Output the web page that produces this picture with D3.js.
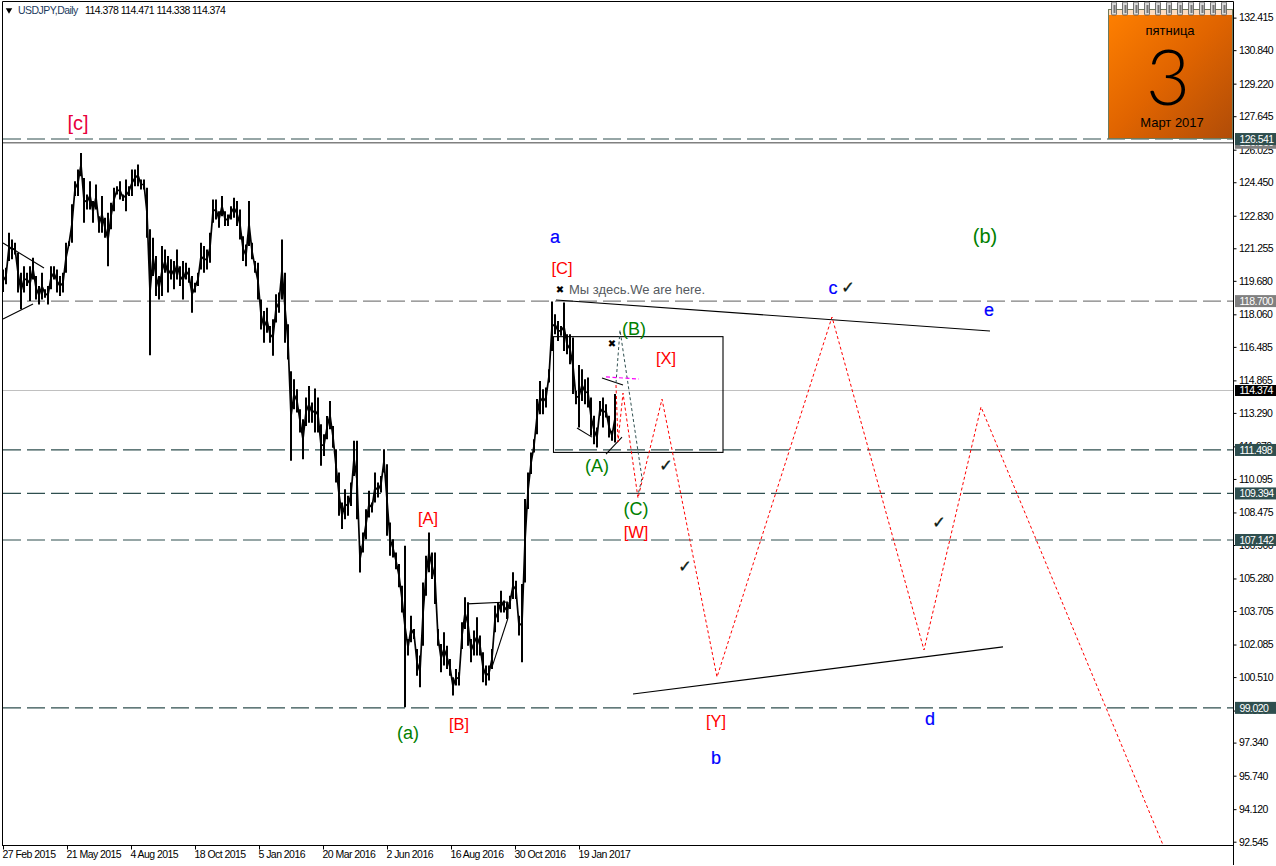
<!DOCTYPE html>
<html><head><meta charset="utf-8">
<script src="https://cdn.jsdelivr.net/npm/d3@7/dist/d3.min.js"></script>
<style>html,body{margin:0;padding:0;background:#fff;overflow:hidden}svg{display:block}text{font-family:"Liberation Sans",Arial,sans-serif}</style>
</head><body><svg id="c" width="1276" height="866"></svg>
<script>
// ---- data ----
const sampleHigh=[120.23,120.31,122.01,121.68,121.52,121.04,120.07,120.39,120.07,120.39,120.80,119.91,119.43,120.07,119.27,119.43,120.39,120.39,120.23,119.91,120.07,121.52,121.60,123.38,124.50,125.07,125.87,124.66,123.86,124.50,123.54,124.34,122.81,123.78,122.73,122.97,123.46,124.18,124.26,124.50,123.86,124.58,124.26,125.07,125.07,125.31,124.58,124.58,124.18,122.17,121.76,120.88,119.91,121.36,121.20,120.88,120.72,120.64,121.20,120.39,120.64,120.56,120.31,119.91,119.59,120.07,121.52,121.36,121.20,122.01,123.62,123.62,123.05,123.78,123.05,122.89,123.29,123.70,123.54,123.13,121.84,121.44,123.54,121.52,120.64,120.56,118.78,118.22,118.38,117.50,117.82,119.03,119.11,121.68,120.07,117.58,115.30,114.92,114.43,113.47,112.98,114.03,114.59,113.79,114.47,114.03,112.74,112.26,113.14,113.87,112.66,111.53,110.41,108.96,109.60,109.28,109.92,111.94,111.94,106.86,107.51,108.63,109.52,108.96,110.41,109.92,110.24,111.53,110.81,107.99,107.18,106.54,105.98,104.93,106.86,102.35,103.48,102.84,101.87,101.55,105.09,106.38,107.51,106.54,106.54,102.84,102.11,102.68,102.03,101.39,100.50,100.90,100.74,103.16,104.37,104.13,102.35,102.76,103.40,102.52,101.71,101.07,101.07,101.87,103.97,104.13,104.69,104.21,104.13,104.45,105.58,105.17,103.48,105.01,109.12,110.41,111.38,112.02,113.96,114.84,114.44,114.52,115.40,118.68,118.06,117.74,117.50,118.63,117.10,117.10,116.94,114.36,115.61,115.40,114.92,115.00,114.04,113.15,112.59,113.87,114.04,113.71,113.15,112.43,114.20];
const sampleLow=[119.14,119.51,120.64,120.72,120.96,119.11,118.30,119.11,119.43,118.70,119.75,118.78,118.54,118.78,118.86,118.54,119.27,119.75,119.11,118.95,119.11,120.07,121.36,121.52,123.78,123.78,124.74,122.49,123.13,123.13,122.49,123.13,122.01,122.01,121.76,120.39,122.17,123.05,123.86,123.62,123.54,123.05,123.78,123.78,124.26,124.26,124.10,124.10,121.76,116.08,119.91,118.95,118.78,118.95,120.07,119.11,119.75,119.27,119.75,119.43,118.78,119.75,119.59,118.14,119.11,119.43,120.23,120.07,120.23,120.56,122.49,122.65,122.25,122.81,122.33,122.33,122.65,122.73,122.33,121.68,120.64,120.39,121.36,120.72,120.07,118.78,117.33,116.69,117.17,116.69,116.05,117.66,118.14,118.78,116.69,115.88,110.97,113.47,113.31,112.34,111.05,112.66,112.82,112.82,112.34,112.34,110.73,111.21,112.02,112.50,111.61,109.92,108.31,107.67,108.15,108.31,108.79,110.24,108.15,105.57,106.54,107.18,108.23,108.47,108.96,109.20,109.44,110.41,107.35,106.38,106.30,105.73,104.85,103.64,99.05,101.55,102.19,102.35,100.58,100.02,102.03,104.45,105.58,105.25,104.05,102.03,100.74,101.07,100.90,100.58,99.62,100.10,100.10,101.87,102.84,102.03,101.23,101.55,101.55,101.55,100.26,100.10,100.34,100.90,102.68,103.16,103.64,103.64,103.32,103.80,104.29,104.29,102.52,101.23,105.09,108.64,110.33,111.38,112.26,113.23,113.23,113.55,114.76,116.29,117.10,116.77,117.02,116.29,116.13,115.65,114.20,113.71,112.59,113.87,113.71,113.55,112.18,111.78,111.62,113.15,112.59,113.07,112.10,111.94,111.86];
const barStep=3;
const priceTicks=[132.415,130.840,129.220,127.645,126.025,124.450,122.830,121.255,119.680,118.060,116.485,114.865,113.290,111.670,110.095,108.475,106.900,105.280,103.705,102.085,100.510,98.890,97.340,95.740,94.120,92.545];
const dateTickBars=[1,65,129,193,257,321,385,449,513,577];
const dateTickLabels=["27 Feb 2015","21 May 2015","4 Aug 2015","18 Oct 2015","5 Jan 2016","20 Mar 2016","2 Jun 2016","16 Aug 2016","30 Oct 2016","19 Jan 2017"];
const levelPrices=[126.541,118.700,111.498,109.394,107.142,99.020];
const levelKinds=["slate","gray","slate","slate","slate","slate"];
const lastPrice=114.374, openLine=126.360;
const redWaveBars=[614,616,621,636,660,715,830,922,979,1161];
const redWavePrices=[114.64,111.88,114.25,109.17,113.96,100.51,117.93,101.82,113.58,92.39];
const slateWaveBars=[614,618,640,636];
const slateWavePrices=[114.74,117.30,110.14,109.32];
const magentaBars=[604,637];
const magentaPrices=[115.03,114.93];
const trendA=[554,118.75,988,117.25];
const trendB=[631,99.69,1001,101.97];
const trendC=[1,121.51,42,120.30];
const trendD=[1,117.83,31,118.56];
const trendE=[465,104.05,506,104.14];
const trendF=[506,104.14,506,103.37];
const trendG=[506,103.37,490,100.99];
const trendH=[600,114.98,621,114.64];
const trendI=[575,112.56,590,112.12];
const trendJ=[604,111.30,620,112.12];
const boxBars=[551.5,721];
const boxPrices=[116.98,111.38];
const labelTexts=["[c]","a","[C]","(b)","c","e","(B)","[X]","(A)","(C)","[W]","[A]","[B]","(a)","[Y]","b","d"];
const labelBars=[76,553,560,983,831,987,632,664,595,634,634,426,457,406,714,714,928];
const labelPrices=[127.32,121.80,120.30,121.85,119.33,118.27,117.35,115.95,110.72,108.64,107.53,108.21,98.24,97.80,98.38,96.60,98.48];
const labelColors=["#e8003c","#0000ff","#ff0000","#008000","#0000ff","#0000ff","#008000","#ff0000","#008000","#008000","#ff0000","#ff0000","#ff0000","#008000","#ff0000","#0000ff","#0000ff"];
const checkBars=[846,664,683,937];
const checkPrices=[119.38,110.77,105.88,108.01];
const crossBars=[558,610];
const crossPrices=[119.29,116.67];
const noteText="Мы здесь.We are here.";
const noteBar=567, notePrice=119.24;
const headerSymbol="USDJPY,Daily";
const headerValues="114.378 114.471 114.338 114.374";
const calendarDay="пятница", calendarDate="3", calendarMonth="Март 2017";
const calendarRings=d3.range(11);

// ---- scales ----
const plot={l:2,r:1233,t:1,b:845};
const x=d3.scaleLinear().domain([0,1231]).range([plot.l,plot.r]);
const y=d3.scaleLinear().domain([92.386,133.267]).range([845,0]);
const svg=d3.select("#c");
const slate="#2f4f4f",gray="#808080";
const defs=svg.append("defs");
defs.append("clipPath").attr("id","pc").append("rect").attr("x",plot.l).attr("y",plot.t).attr("width",plot.r-plot.l).attr("height",plot.b-plot.t);
const g=defs.append("linearGradient").attr("id","cal").attr("x1",0).attr("y1",0).attr("x2",1).attr("y2",1);
g.append("stop").attr("offset",0).attr("stop-color","#ff8000");
g.append("stop").attr("offset",.5).attr("stop-color","#e06400");
g.append("stop").attr("offset",1).attr("stop-color","#b04c08");

const chart=svg.append("g").attr("clip-path","url(#pc)");

// horizontal lines
chart.append("line").attr("x1",plot.l).attr("x2",plot.r).attr("y1",y(openLine)).attr("y2",y(openLine)).attr("stroke",gray).attr("stroke-width",1.3);
chart.append("line").attr("x1",plot.l).attr("x2",plot.r).attr("y1",y(lastPrice)).attr("y2",y(lastPrice)).attr("stroke","#c0c0c0");
chart.selectAll(".lvl").data(levelPrices).join("line").attr("class","lvl")
 .attr("x1",plot.l+1).attr("x2",plot.r).attr("y1",d=>y(d)).attr("y2",d=>y(d))
 .attr("stroke",(d,i)=>levelKinds[i]==="gray"?gray:slate).attr("stroke-width",1.2).attr("stroke-dasharray","18 6");

// price bars, with a thin line through each bar's middle joining them
const lineGen=d3.line().x(d=>x(d[0])).y(d=>y(d[1]));
chart.append("path").attr("d",lineGen(sampleHigh.map((h,i)=>[1+i*barStep,(h+sampleLow[i])/2]))).attr("fill","none").attr("stroke","#000").attr("stroke-width",1.7);
chart.append("g").selectAll("line").data(sampleHigh).join("line")
 .attr("x1",(d,i)=>x(1+i*barStep)).attr("x2",(d,i)=>x(1+i*barStep))
 .attr("y1",d=>y(d)).attr("y2",(d,i)=>y(sampleLow[i]))
 .attr("stroke","#000").attr("stroke-width",2);

// trendlines
[trendA,trendB,trendC,trendD,trendE,trendF,trendG,trendH,trendI,trendJ].forEach(t=>{
 chart.append("path").attr("d",lineGen([[t[0],t[1]],[t[2],t[3]]])).attr("fill","none").attr("stroke","#000").attr("stroke-width",1.1);
});
chart.append("rect").attr("x",x(boxBars[0])).attr("y",y(boxPrices[0])).attr("width",x(boxBars[1])-x(boxBars[0])).attr("height",y(boxPrices[1])-y(boxPrices[0])).attr("fill","none").attr("stroke","#000").attr("stroke-width",1.1);

// projected waves
chart.append("path").attr("d",lineGen(slateWaveBars.map((b,i)=>[b,slateWavePrices[i]]))).attr("fill","none").attr("stroke",slate).attr("stroke-dasharray","3 2.5");
chart.append("path").attr("d",lineGen(redWaveBars.map((b,i)=>[b,redWavePrices[i]]))).attr("fill","none").attr("stroke","#ff0000").attr("stroke-dasharray","3 2.5");
chart.append("path").attr("d",lineGen(magentaBars.map((b,i)=>[b,magentaPrices[i]]))).attr("fill","none").attr("stroke","#ff00ff").attr("stroke-dasharray","4 2.5").attr("stroke-width",1.2);

// wave labels
const labelSize=(t,c)=>(t==="[c]"||t==="(b)")?"20px":(c==="#008000"||c==="#0000ff")?"18px":"16.5px";
chart.selectAll(".wl").data(labelTexts).join("text").attr("class","wl")
 .attr("x",(d,i)=>x(labelBars[i])).attr("y",(d,i)=>y(labelPrices[i])).attr("dy",".35em")
 .attr("text-anchor","middle").attr("fill",(d,i)=>labelColors[i])
 .attr("stroke",(d,i)=>labelColors[i]==="#0000ff"?"#0000ff":"none").attr("stroke-width",.2)
 .style("font-size",(d,i)=>labelSize(d,labelColors[i])).text(d=>d);
chart.append("text").attr("x",x(noteBar)).attr("y",y(notePrice)).attr("dy",".35em").attr("fill","#555a60").style("font-size","13px").text(noteText);
chart.selectAll(".ck").data(checkBars).join("text").attr("class","ck").attr("x",d=>x(d)).attr("y",(d,i)=>y(checkPrices[i])).attr("dy",".38em").attr("text-anchor","middle").attr("fill","#0a1a10").attr("stroke","#0a1a10").attr("stroke-width",.4).style("font-family",'"DejaVu Sans"').style("font-size","16px").text("✓");
chart.selectAll(".cr").data(crossBars).join("text").attr("class","cr").attr("x",d=>x(d)).attr("y",(d,i)=>y(crossPrices[i])).attr("dy",".38em").attr("text-anchor","middle").attr("fill","#000").style("font-family",'"DejaVu Sans"').style("font-size","10px").text("✖");

// frame
svg.append("path").attr("d",`M${plot.l+.5},${plot.b}V${plot.t+.5}H${plot.r+.5}V${plot.b+20}`).attr("fill","none").attr("stroke","#000");
svg.append("line").attr("x1",plot.l).attr("x2",plot.r+1).attr("y1",plot.b+.5).attr("y2",plot.b+.5).attr("stroke","#000");

// shared axis text style
const axisText=s=>s.style("font-size","10.5px").style("letter-spacing","-.55px");

// price axis
const yAxis=svg.append("g").attr("transform",`translate(${plot.r+.5},0)`).call(d3.axisRight(y).tickValues(priceTicks).tickSize(3).tickFormat(d3.format(".3f")));
yAxis.select(".domain").remove();
yAxis.selectAll("text").attr("x",5.5).attr("fill","#000").call(axisText);

// price flags
function flag(p,fill,fg,h){
 const f=svg.append("g").attr("transform",`translate(${plot.r+2},${y(p)})`);
 f.append("rect").attr("x",0).attr("y",-h/2).attr("width",41).attr("height",h).attr("fill",fill);
 f.append("text").attr("x",4.5).attr("dy",".35em").attr("fill",fg).call(axisText).text(d3.format(".3f")(p));
}
flag(openLine,gray,"#fff",12);
levelPrices.forEach((p,i)=>flag(p,levelKinds[i]==="gray"?gray:slate,"#fff",12));
flag(lastPrice,"#000","#fff",11);

// date axis
const xAxis=svg.append("g").attr("transform",`translate(0,${plot.b+.5})`).call(d3.axisBottom(x).tickValues(dateTickBars).tickSize(4).tickFormat((d,i)=>dateTickLabels[i]));
xAxis.select(".domain").remove();
xAxis.selectAll("text").attr("text-anchor","start").attr("x",-1).attr("y",5.5).attr("dy",".71em").attr("fill","#000").call(axisText);

// header
svg.append("path").attr("d",d3.symbol(d3.symbolTriangle,18)()).attr("transform","translate(9,10) rotate(180)").attr("fill","#000");
svg.append("text").attr("x",18).attr("y",14).attr("fill","#1c3a5e").call(axisText).text(headerSymbol);
svg.append("text").attr("x",85).attr("y",14).attr("fill","#000").call(axisText).text(headerValues);

// calendar
const cal=svg.append("g");
cal.append("rect").attr("x",1108.5).attr("y",9.5).attr("width",124).attr("height",129).attr("fill","url(#cal)").attr("stroke","#6f7a5c");
cal.append("rect").attr("x",1109).attr("y",10).attr("width",123).attr("height",5).attr("fill","#fff").attr("opacity",.75);
cal.selectAll(".ring").data(calendarRings).join("g").attr("class","ring").each(function(d){
 const r=d3.select(this),cx=1114+d*11;
 r.append("rect").attr("x",cx-2.5).attr("y",2).attr("width",5).attr("height",13).attr("rx",1).attr("fill","#d9d9d9").attr("stroke","#555").attr("stroke-width",.8);
 r.append("rect").attr("x",cx-.5).attr("y",5).attr("width",2).attr("height",8).attr("fill","#777");
});
const calT=(t,tx,ty,s)=>cal.append("text").attr("x",tx).attr("y",ty).attr("text-anchor","middle").attr("fill","#000").style("font-size",s).text(t);
calT(calendarDay,1170,35,"13px");
calT(calendarDate,1168,105,"76px").style("font-family",'Lato,"Liberation Sans",sans-serif').style("font-weight",300);
calT(calendarMonth,1172,127,"13px");
</script></body></html>
